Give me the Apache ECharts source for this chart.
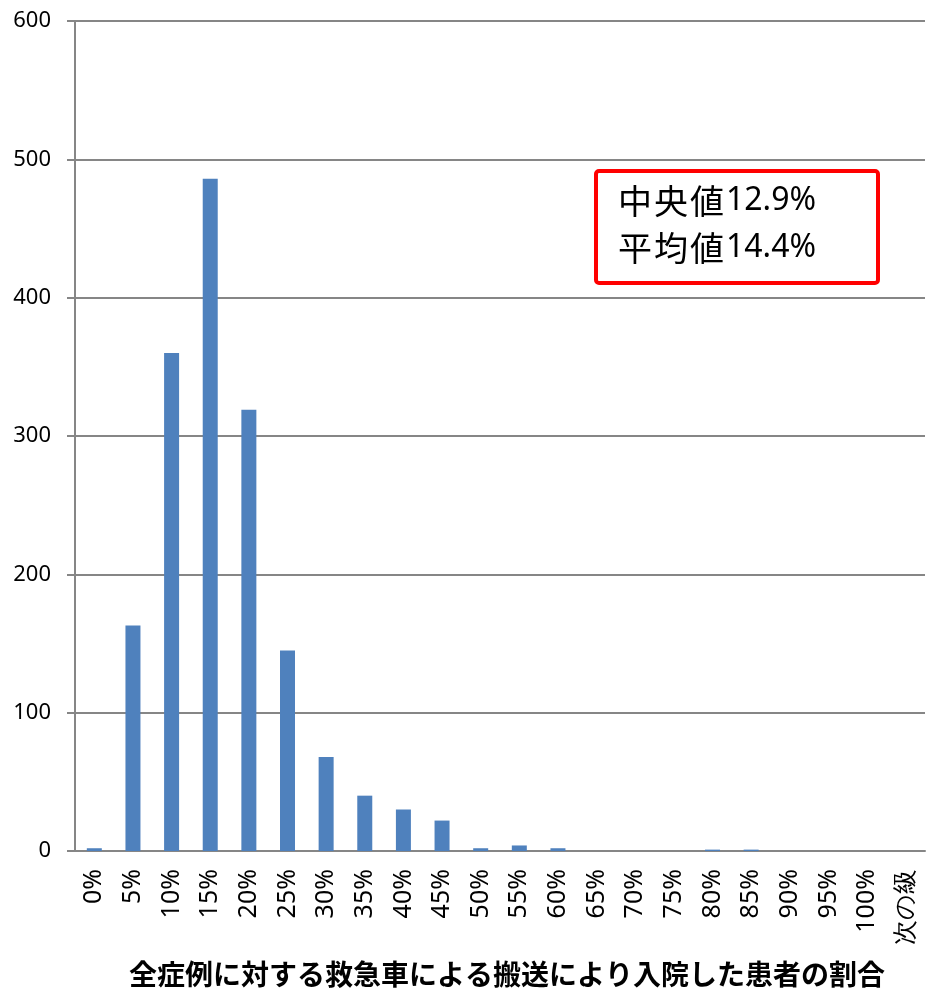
<!DOCTYPE html>
<html><head><meta charset="utf-8">
<script src="https://cdn.jsdelivr.net/npm/echarts@6/dist/echarts.min.js"></script>
<style>html,body{margin:0;padding:0;background:#fff}#c{width:926px;height:990px}</style>
</head><body><div id="c"></div>
<script>
const categories = ['0%','5%','10%','15%','20%','25%','30%','35%','40%','45%','50%','55%','60%','65%','70%','75%','80%','85%','90%','95%','100%','次の級'];
const counts = [2,163,360,486,319,145,68,40,30,22,2,4,2,0,0,0,1,1,0,0,0,0];
const yTicks = {min:0, max:600, interval:100};
const xTitle = '全症例に対する救急車による搬送により入院した患者の割合';
const boxLabels = ['中央値','平均値'];
const boxValues = ['12.9%','14.4%'];

const chart = echarts.init(document.getElementById('c'));
const richStyles = {
  c:{fontFamily:'Noto Sans CJK JP',fontSize:34,width:36,lineHeight:40,color:'#000'},
  n:{fontFamily:'Noto Sans',fontSize:32,lineHeight:40,color:'#000'}
};
function boxText(label, value){
  return label.split('').map(ch => '{c|' + ch + '}').join('') + '{n|' + value + '}';
}
chart.setOption({
  animation:false,
  backgroundColor:'#fff',
  grid:{left:75,right:1,top:21,bottom:139},
  title:{text:xTitle,left:502,textAlign:'center',top:955,
    textStyle:{fontFamily:'Noto Sans CJK JP',fontWeight:'bold',fontSize:28,color:'#000'}},
  xAxis:{type:'category',data:categories,
    axisLine:{lineStyle:{color:'#868686',width:2}},
    axisTick:{show:false},
    axisLabel:{rotate:90,margin:18,color:'#000',fontSize:25,fontFamily:'Noto Sans',interval:0}},
  yAxis:{type:'value',min:yTicks.min,max:yTicks.max,interval:yTicks.interval,
    axisLine:{show:true,lineStyle:{color:'#868686',width:2}},
    axisTick:{show:true,length:8,lineStyle:{color:'#868686',width:2}},
    splitLine:{lineStyle:{color:'#868686',width:2}},
    axisLabel:{margin:24,color:'#000',fontSize:22,fontFamily:'Noto Sans'}},
  series:[{type:'bar',data:counts,barWidth:15,itemStyle:{color:'#4F81BD'}}],
  graphic:[
    {type:'rect',left:594,top:169,shape:{width:282,height:112,r:3},
      style:{fill:'#fff',stroke:'#FF0000',lineWidth:4},z:100},
    {type:'text',left:618,top:184,style:{text:boxText(boxLabels[0],boxValues[0]),rich:richStyles},z:101},
    {type:'text',left:618,top:231,style:{text:boxText(boxLabels[1],boxValues[1]),rich:richStyles},z:101}
  ]
});
</script></body></html>
